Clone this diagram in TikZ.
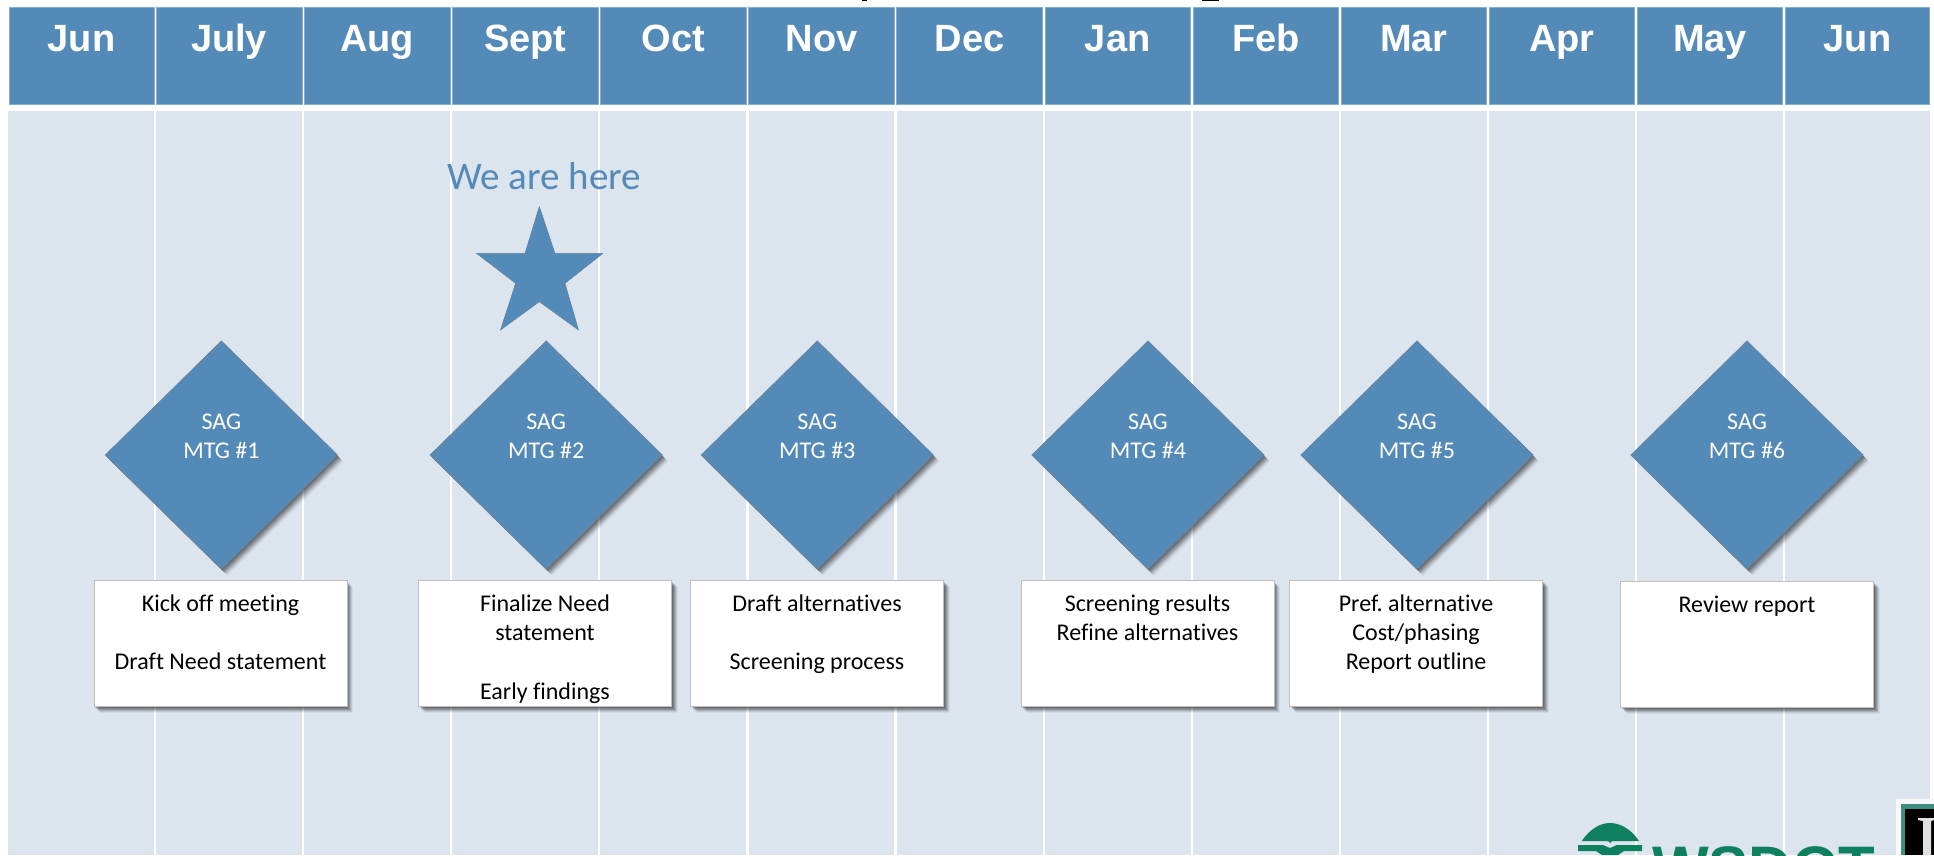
\documentclass[tikz,border=0pt]{standalone}
\usepackage{fontspec}
\setmainfont{Carlito}[RawFeature={-liga;-clig;-dlig;-calt}]
\newfontfamily\headfont{Liberation Sans}
\frenchspacing
\usetikzlibrary{shapes.geometric,shadows}
\definecolor{hblue}{HTML}{548AB8}
\definecolor{paleblue}{HTML}{DCE4EE}
\definecolor{logogreen}{HTML}{0E7F5F}
\definecolor{logoteal}{HTML}{3F8F80}
\tikzset{
  softshadow/.style={
    drop shadow={shadow xshift=1pt,shadow yshift=-1.5pt,opacity=.14,fill=black},
    drop shadow={shadow xshift=2pt,shadow yshift=-2.5pt,opacity=.14,fill=black},
    drop shadow={shadow xshift=3pt,shadow yshift=-3.5pt,opacity=.14,fill=black},
    drop shadow={shadow xshift=4pt,shadow yshift=-4.5pt,opacity=.12,fill=black},
    drop shadow={shadow xshift=5pt,shadow yshift=-5.5pt,opacity=.08,fill=black},
    drop shadow={shadow xshift=6pt,shadow yshift=-6.5pt,opacity=.05,fill=black}},
  monthcell/.style={rectangle,fill=hblue,draw=hblue!70!white,line width=.8pt,inner sep=0pt,outer sep=0pt,
    minimum width=145pt,text=white,font=\headfont\bfseries\fontsize{38}{40}\selectfont,
    text height=43.3pt,text depth=53.3pt},
  sagdiamond/.style={diamond,shape aspect=1,fill=hblue,draw=hblue!55!gray,line width=.8pt,inner sep=0pt,outer sep=0pt,
    minimum width=232pt,minimum height=228pt,softshadow},
  sagtext/.style={anchor=north,inner sep=0pt,align=center,text=white,font=\fontsize{24}{29.3}\selectfont},
  notebox/.style={rectangle,fill=white,draw=black!25,line width=1pt,inner sep=0pt,outer sep=0pt,
    minimum width=253pt,minimum height=126pt,softshadow},
  notetext/.style={anchor=north,inner sep=0pt,align=center,text=black,font=\fontsize{24}{29.3}\selectfont},
  gridline/.style={draw=white,line width=2.2pt},
  logoshape/.style={fill=logogreen,draw=none}
}
\begin{document}
\begin{tikzpicture}[x=1pt,y=-1pt]
\clip (0,0) rectangle (1934,855);
\fill[white] (0,0) rectangle (1934,855);
% clipped fragments of the title above the strip
\fill[black] (862,0) rectangle (867,1);
\fill[black] (1202,0) rectangle (1219,1.2);
% background panel and month grid
\fill[paleblue] (8,111) rectangle (1930,855);
\foreach \x in {155,303.2,451.2,599.3,747.4,895.5,1043.6,1191.7,1339.8,1487.9,1636,1784}
  \draw[gridline] (\x,111) -- (\x,855);
% month header
\foreach \i/\cx/\w/\m in {1/81.5/145/Jun,2/229.1/145.6/July,3/377.2/145.6/Aug,4/525.3/145.6/Sept,5/673.4/145.6/Oct,6/821.5/145.6/Nov,7/969.6/145.6/Dec,8/1117.7/145.6/Jan,9/1265.8/145.6/Feb,10/1413.9/145.6/Mar,11/1562/145.6/Apr,12/1710/145.6/May,13/1857.5/144/Jun}
  \node[monthcell,minimum width=\w pt] (h\i) at (\cx,56) {\m};
% star
\node[inner sep=0pt,anchor=base,text=hblue,font=\fontsize{39}{44}\selectfont] (here) at (544,189) {We are here};
\fill[hblue,draw=hblue!60!gray,line width=.5pt] (539.3,206.5) -- (555,253.3) -- (603,253.3) -- (565,283.3) -- (578.5,330) -- (539.3,301.7) -- (500.5,330) -- (515.6,283.3) -- (476.4,253.3) -- (525,253.3) -- cycle;
% diamonds
\foreach \i/\cx/\m in {1/221.4/1,2/546.2/2,3/817.3/3,4/1148/4,5/1417/5,6/1747/6}{
  \node[sagdiamond] (d\i) at (\cx,455) {};
  \node[sagtext] (dt\i) at ([yshift=-69pt]d\i.north) {\rule{0pt}{19pt}SAG\\MTG \#\m};
}
% note boxes
\node[notebox] (b1) at (220.5,643.5) {};
\node[notetext] (bt1) at ([yshift=-10.5pt]b1.north) {\rule{0pt}{20pt}Kick off meeting\\[29.3pt]Draft Need statement};
\node[notebox] (b2) at (545,643.5) {};
\node[notetext] (bt2) at ([yshift=-10.5pt]b2.north) {\rule{0pt}{20pt}Finalize Need\\statement\\[29.3pt]Early findings};
\node[notebox] (b3) at (817,643.5) {};
\node[notetext] (bt3) at ([yshift=-10.5pt]b3.north) {\rule{0pt}{20pt}Draft alternatives\\[29.3pt]Screening process};
\node[notebox] (b4) at (1147.5,643.5) {};
\node[notetext] (bt4) at ([yshift=-10.5pt]b4.north) {\rule{0pt}{20pt}Screening results\\Refine alternatives};
\node[notebox] (b5) at (1416,643.5) {};
\node[notetext] (bt5) at ([yshift=-10.5pt]b5.north) {\rule{0pt}{20pt}Pref. alternative\\Cost/phasing\\Report outline};
\node[notebox] (b6) at (1747,644.5) {};
\node[notetext] (bt6) at ([yshift=-10.5pt]b6.north) {\rule{0pt}{20pt}Review report};
% logos, cut by the lower edge
\fill[logoshape] (1581.7,841) .. controls (1590,829) and (1600,823) .. (1610,823) .. controls (1620,823) and (1631,829) .. (1639,841) -- (1612,841) -- (1610,843) -- (1608,841) -- cycle;
\fill[logoshape] (1578,845) -- (1603,845) -- (1610,848) -- (1617,845) -- (1642,845) -- (1642,851) -- (1624,851) -- (1618,855) -- (1602,855) -- (1596,851) -- (1578,851) -- cycle;
\node[inner sep=0pt,anchor=base west,text=logogreen,font=\headfont\bfseries\fontsize{60}{62}\selectfont] (wsdot) at (1652,888) {WSDOT};
\fill[white!95!gray] (1896,799) rectangle (1934,855);
\fill[logoteal] (1900.5,804) rectangle (1934,855);
\fill[black] (1905,809) rectangle (1934,855);
\fill[white!88!black] (1918,818) -- (1934,818) -- (1934,820) -- (1931,821) -- (1931,855) -- (1923,855) -- (1923,821) -- (1918,820) -- cycle;
\end{tikzpicture}
\end{document}
